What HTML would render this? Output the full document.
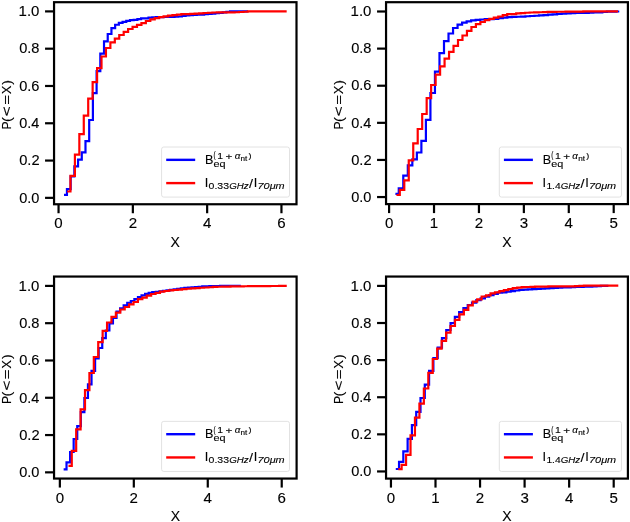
<!DOCTYPE html><html><head><meta charset="utf-8"><style>html,body{margin:0;padding:0;background:#fff;}svg{display:block;will-change:transform;}text{font-family:"Liberation Sans",sans-serif;fill:#000;stroke:#000;stroke-width:0.12px;}</style></head><body>
<svg width="630" height="522" viewBox="0 0 630 522">
<rect width="630" height="522" fill="#fff"/>
<clipPath id="cTL"><rect x="54.05" y="2.20" width="242.45" height="202.05"/></clipPath>
<g clip-path="url(#cTL)"><path d="M65.09 194.90H66.94V189.10H70.65V176.40H74.36V166.30H78.06V159.60H81.77V152.40H85.48V141.10H89.19V120.00H92.90V93.20H96.60V71.10H100.31V53.70H104.02V41.40H107.73V34.00H111.44V28.20H115.14V24.75H118.85V22.90H122.56V21.90H126.27V20.90H129.98V20.15H133.68V19.80H137.39V19.10H141.10V18.40H148.52V17.63H152.22V17.41H155.93V17.22H159.64V17.08H163.35V17.01H167.06V16.95H170.76V16.87H174.47V16.68H178.18V16.50H181.89V15.97H185.60V15.47H189.30V15.24H193.01V15.01H196.72V14.77H200.43V14.54H204.14V14.27H207.84V13.93H211.55V13.60H215.26V13.25H218.97V12.80H222.68V12.36H226.38V11.88H230.09V11.41H233.80V11.40H246.78" fill="none" stroke="#0000ff" stroke-width="2.20" stroke-linecap="square" stroke-linejoin="miter"/><path d="M68.25 191.50H70.47V175.90H74.91V154.60H79.34V134.20H83.78V115.60H88.21V98.70H92.64V82.10H97.08V68.10H101.51V56.50H105.95V48.00H110.38V42.40H114.82V38.70H119.25V35.00H123.69V31.90H128.12V29.00H132.56V26.90H136.99V24.90H141.43V23.10H145.86V21.00H150.30V19.40H154.73V18.10H159.17V17.10H163.60V16.30H168.04V15.60H172.47V15.10H176.91V14.70H181.34V14.10H190.22V13.88H194.65V13.60H199.08V13.31H203.52V13.02H207.95V12.74H212.39V12.48H216.82V12.38H221.26V12.36H225.69V12.34H230.13V12.32H234.56V12.26H239.00V12.02H243.43V11.75H247.87V11.45H252.30V11.45H256.74V11.44H261.17V11.44H265.61V11.43H270.04V11.43H274.48V11.42H278.91V11.42H283.35V11.41H285.57" fill="none" stroke="#ff0000" stroke-width="2.20" stroke-linecap="square" stroke-linejoin="miter"/></g>
<line x1="45.05" y1="197.85" x2="54.05" y2="197.85" stroke="#000" stroke-width="2.2"/>
<text x="19.18" y="202.60" font-size="14.00" textLength="20.24" lengthAdjust="spacingAndGlyphs">0.0</text>
<line x1="45.05" y1="160.56" x2="54.05" y2="160.56" stroke="#000" stroke-width="2.2"/>
<text x="19.18" y="165.31" font-size="14.00" textLength="20.41" lengthAdjust="spacingAndGlyphs">0.2</text>
<line x1="45.05" y1="123.27" x2="54.05" y2="123.27" stroke="#000" stroke-width="2.2"/>
<text x="19.19" y="128.02" font-size="14.00" textLength="20.09" lengthAdjust="spacingAndGlyphs">0.4</text>
<line x1="45.05" y1="85.98" x2="54.05" y2="85.98" stroke="#000" stroke-width="2.2"/>
<text x="19.18" y="90.73" font-size="14.00" textLength="20.31" lengthAdjust="spacingAndGlyphs">0.6</text>
<line x1="45.05" y1="48.69" x2="54.05" y2="48.69" stroke="#000" stroke-width="2.2"/>
<text x="19.18" y="53.44" font-size="14.00" textLength="20.31" lengthAdjust="spacingAndGlyphs">0.8</text>
<line x1="45.05" y1="11.40" x2="54.05" y2="11.40" stroke="#000" stroke-width="2.2"/>
<text x="18.61" y="16.15" font-size="14.00" textLength="20.83" lengthAdjust="spacingAndGlyphs">1.0</text>
<line x1="58.55" y1="204.25" x2="58.55" y2="213.25" stroke="#000" stroke-width="2.2"/>
<text x="58.55" y="228.25" font-size="14" text-anchor="middle" textLength="8.40" lengthAdjust="spacingAndGlyphs">0</text>
<line x1="132.85" y1="204.25" x2="132.85" y2="213.25" stroke="#000" stroke-width="2.2"/>
<text x="132.85" y="228.25" font-size="14" text-anchor="middle" textLength="8.40" lengthAdjust="spacingAndGlyphs">2</text>
<line x1="207.15" y1="204.25" x2="207.15" y2="213.25" stroke="#000" stroke-width="2.2"/>
<text x="207.15" y="228.25" font-size="14" text-anchor="middle" textLength="8.40" lengthAdjust="spacingAndGlyphs">4</text>
<line x1="281.45" y1="204.25" x2="281.45" y2="213.25" stroke="#000" stroke-width="2.2"/>
<text x="281.45" y="228.25" font-size="14" text-anchor="middle" textLength="8.40" lengthAdjust="spacingAndGlyphs">6</text>
<rect x="54.05" y="2.20" width="242.45" height="202.05" fill="none" stroke="#000" stroke-width="2.2"/>
<text x="175.28" y="246.95" font-size="14" text-anchor="middle">X</text>
<text transform="translate(10.95 0) rotate(-90)" x="-129.59" y="0" font-size="13.4" textLength="8.02" lengthAdjust="spacingAndGlyphs">P</text>
<text transform="translate(10.95 0) rotate(-90)" x="-122.09" y="0" font-size="13.4" textLength="4.77" lengthAdjust="spacingAndGlyphs">(</text>
<text transform="translate(10.95 0) rotate(-90)" x="-116.15" y="0" font-size="13.4" textLength="10.10" lengthAdjust="spacingAndGlyphs">&lt;</text>
<text transform="translate(10.95 0) rotate(-90)" x="-104.81" y="0" font-size="13.4" textLength="9.74" lengthAdjust="spacingAndGlyphs">=</text>
<text transform="translate(10.95 0) rotate(-90)" x="-94.29" y="0" font-size="13.4" textLength="8.66" lengthAdjust="spacingAndGlyphs">X</text>
<text transform="translate(10.95 0) rotate(-90)" x="-84.78" y="0" font-size="13.4" textLength="4.77" lengthAdjust="spacingAndGlyphs">)</text>
<rect x="161.60" y="147.00" width="127.90" height="50.10" rx="2.2" ry="2.2" fill="#fff" fill-opacity="0.8" stroke="#e2e2e2" stroke-width="1"/>
<line x1="166.20" y1="159.85" x2="195.20" y2="159.85" stroke="#0000ff" stroke-width="2.4"/>
<line x1="166.20" y1="183.10" x2="195.20" y2="183.10" stroke="#ff0000" stroke-width="2.4"/>
<text x="205.07" y="163.80" font-size="13.50" textLength="8.40" lengthAdjust="spacingAndGlyphs">B</text>
<text x="213.54" y="167.10" font-size="9.50" textLength="12.05" lengthAdjust="spacingAndGlyphs">eq</text>
<text x="213.60" y="158.35" font-size="8.20" textLength="2.14" lengthAdjust="spacingAndGlyphs">(</text>
<text x="217.20" y="158.80" font-size="9.00" textLength="5.80" lengthAdjust="spacingAndGlyphs">1</text>
<text x="225.53" y="159.60" font-size="9.30" textLength="6.85" lengthAdjust="spacingAndGlyphs">+</text>
<text x="234.66" y="159.10" font-size="9.30" font-style="italic" textLength="5.61" lengthAdjust="spacingAndGlyphs">α</text>
<text x="240.46" y="160.60" font-size="6.65" textLength="6.80" lengthAdjust="spacingAndGlyphs">nt</text>
<text x="248.55" y="158.10" font-size="8.00" textLength="3.01" lengthAdjust="spacingAndGlyphs">)</text>
<text x="204.81" y="187.00" font-size="13.50" textLength="3.57" lengthAdjust="spacingAndGlyphs">I</text>
<text x="208.59" y="189.00" font-size="9.60" textLength="20.47" lengthAdjust="spacingAndGlyphs">0.33</text>
<text x="229.22" y="189.00" font-size="9.60" font-style="italic" textLength="19.51" lengthAdjust="spacingAndGlyphs">GHz</text>
<text x="249.10" y="187.60" font-size="13.50" textLength="4.00" lengthAdjust="spacingAndGlyphs">/</text>
<text x="253.71" y="187.00" font-size="13.50" textLength="3.57" lengthAdjust="spacingAndGlyphs">I</text>
<text x="257.57" y="189.00" font-size="9.60" font-style="italic" textLength="27.13" lengthAdjust="spacingAndGlyphs">70μm</text>
<clipPath id="cTR"><rect x="386.05" y="2.20" width="241.85" height="201.90"/></clipPath>
<g clip-path="url(#cTR)"><path d="M396.50 193.90H398.76V188.40H403.28V175.70H407.81V165.30H412.33V159.40H416.86V152.50H421.38V140.80H425.90V119.80H430.43V93.00H434.95V71.70H439.48V53.10H444.00V41.20H448.52V33.50H453.05V28.00H457.57V24.60H462.10V22.70H466.62V21.30H471.14V20.30H475.67V19.80H480.19V19.50H484.72V19.20H489.24V19.10H493.76V19.00H498.29V18.20H502.81V17.60H507.34V17.20H511.86V16.95H516.38V16.75H520.91V16.53H525.43V16.26H529.96V15.99H534.48V15.76H539.00V15.40H543.53V15.04H548.05V14.71H552.58V14.38H557.10V14.00H561.62V13.60H566.15V13.31H570.67V13.06H575.20V12.95H579.72V12.89H584.24V12.82H588.77V12.68H593.29V12.51H597.82V12.34H602.34V11.98H606.86V11.60H611.39V11.56H615.91V11.52H618.17" fill="none" stroke="#0000ff" stroke-width="2.20" stroke-linecap="square" stroke-linejoin="miter"/><path d="M397.57 195.00H399.81V189.80H404.29V180.30H408.76V160.30H413.24V143.40H417.71V129.00H422.19V114.00H426.67V98.10H431.14V85.00H435.62V74.70H440.09V66.30H444.57V58.60H449.05V51.90H453.52V45.80H458.00V40.00H462.47V35.50H466.95V30.90H471.43V27.00H475.90V24.20H480.38V22.00H484.85V20.20H489.33V18.80H493.81V17.60H498.28V16.50H502.76V15.10H507.23V14.21H511.71V14.10H516.19V13.37H520.66V13.05H525.14V12.76H529.61V12.51H534.09V12.37H538.57V12.23H543.04V12.09H547.52V11.93H551.99V11.78H556.47V11.74H560.95V11.73H565.42V11.72H569.90V11.72H574.37V11.71H578.85V11.65H583.33V11.47H587.80V11.45H616.90" fill="none" stroke="#ff0000" stroke-width="2.20" stroke-linecap="square" stroke-linejoin="miter"/></g>
<line x1="377.05" y1="197.05" x2="386.05" y2="197.05" stroke="#000" stroke-width="2.2"/>
<text x="351.18" y="201.80" font-size="14.00" textLength="20.24" lengthAdjust="spacingAndGlyphs">0.0</text>
<line x1="377.05" y1="159.94" x2="386.05" y2="159.94" stroke="#000" stroke-width="2.2"/>
<text x="351.18" y="164.69" font-size="14.00" textLength="20.41" lengthAdjust="spacingAndGlyphs">0.2</text>
<line x1="377.05" y1="122.83" x2="386.05" y2="122.83" stroke="#000" stroke-width="2.2"/>
<text x="351.19" y="127.58" font-size="14.00" textLength="20.09" lengthAdjust="spacingAndGlyphs">0.4</text>
<line x1="377.05" y1="85.72" x2="386.05" y2="85.72" stroke="#000" stroke-width="2.2"/>
<text x="351.18" y="90.47" font-size="14.00" textLength="20.31" lengthAdjust="spacingAndGlyphs">0.6</text>
<line x1="377.05" y1="48.61" x2="386.05" y2="48.61" stroke="#000" stroke-width="2.2"/>
<text x="351.18" y="53.36" font-size="14.00" textLength="20.31" lengthAdjust="spacingAndGlyphs">0.8</text>
<line x1="377.05" y1="11.50" x2="386.05" y2="11.50" stroke="#000" stroke-width="2.2"/>
<text x="350.61" y="16.25" font-size="14.00" textLength="20.83" lengthAdjust="spacingAndGlyphs">1.0</text>
<line x1="389.10" y1="204.10" x2="389.10" y2="213.10" stroke="#000" stroke-width="2.2"/>
<text x="389.10" y="228.10" font-size="14" text-anchor="middle" textLength="8.40" lengthAdjust="spacingAndGlyphs">0</text>
<line x1="434.02" y1="204.10" x2="434.02" y2="213.10" stroke="#000" stroke-width="2.2"/>
<text x="434.02" y="228.10" font-size="14" text-anchor="middle" textLength="8.40" lengthAdjust="spacingAndGlyphs">1</text>
<line x1="478.94" y1="204.10" x2="478.94" y2="213.10" stroke="#000" stroke-width="2.2"/>
<text x="478.94" y="228.10" font-size="14" text-anchor="middle" textLength="8.40" lengthAdjust="spacingAndGlyphs">2</text>
<line x1="523.86" y1="204.10" x2="523.86" y2="213.10" stroke="#000" stroke-width="2.2"/>
<text x="523.86" y="228.10" font-size="14" text-anchor="middle" textLength="8.40" lengthAdjust="spacingAndGlyphs">3</text>
<line x1="568.78" y1="204.10" x2="568.78" y2="213.10" stroke="#000" stroke-width="2.2"/>
<text x="568.78" y="228.10" font-size="14" text-anchor="middle" textLength="8.40" lengthAdjust="spacingAndGlyphs">4</text>
<line x1="613.70" y1="204.10" x2="613.70" y2="213.10" stroke="#000" stroke-width="2.2"/>
<text x="613.70" y="228.10" font-size="14" text-anchor="middle" textLength="8.40" lengthAdjust="spacingAndGlyphs">5</text>
<rect x="386.05" y="2.20" width="241.85" height="201.90" fill="none" stroke="#000" stroke-width="2.2"/>
<text x="506.98" y="246.80" font-size="14" text-anchor="middle">X</text>
<text transform="translate(342.95 0) rotate(-90)" x="-129.59" y="0" font-size="13.4" textLength="8.02" lengthAdjust="spacingAndGlyphs">P</text>
<text transform="translate(342.95 0) rotate(-90)" x="-122.09" y="0" font-size="13.4" textLength="4.77" lengthAdjust="spacingAndGlyphs">(</text>
<text transform="translate(342.95 0) rotate(-90)" x="-116.15" y="0" font-size="13.4" textLength="10.10" lengthAdjust="spacingAndGlyphs">&lt;</text>
<text transform="translate(342.95 0) rotate(-90)" x="-104.81" y="0" font-size="13.4" textLength="9.74" lengthAdjust="spacingAndGlyphs">=</text>
<text transform="translate(342.95 0) rotate(-90)" x="-94.29" y="0" font-size="13.4" textLength="8.66" lengthAdjust="spacingAndGlyphs">X</text>
<text transform="translate(342.95 0) rotate(-90)" x="-84.78" y="0" font-size="13.4" textLength="4.77" lengthAdjust="spacingAndGlyphs">)</text>
<rect x="499.30" y="147.00" width="122.20" height="50.10" rx="2.2" ry="2.2" fill="#fff" fill-opacity="0.8" stroke="#e2e2e2" stroke-width="1"/>
<line x1="503.90" y1="159.85" x2="532.90" y2="159.85" stroke="#0000ff" stroke-width="2.4"/>
<line x1="503.90" y1="183.10" x2="532.90" y2="183.10" stroke="#ff0000" stroke-width="2.4"/>
<text x="542.77" y="163.80" font-size="13.50" textLength="8.40" lengthAdjust="spacingAndGlyphs">B</text>
<text x="551.24" y="167.10" font-size="9.50" textLength="12.05" lengthAdjust="spacingAndGlyphs">eq</text>
<text x="551.30" y="158.35" font-size="8.20" textLength="2.14" lengthAdjust="spacingAndGlyphs">(</text>
<text x="554.90" y="158.80" font-size="9.00" textLength="5.80" lengthAdjust="spacingAndGlyphs">1</text>
<text x="563.23" y="159.60" font-size="9.30" textLength="6.85" lengthAdjust="spacingAndGlyphs">+</text>
<text x="572.36" y="159.10" font-size="9.30" font-style="italic" textLength="5.61" lengthAdjust="spacingAndGlyphs">α</text>
<text x="578.16" y="160.60" font-size="6.65" textLength="6.80" lengthAdjust="spacingAndGlyphs">nt</text>
<text x="586.25" y="158.10" font-size="8.00" textLength="3.01" lengthAdjust="spacingAndGlyphs">)</text>
<text x="542.51" y="187.00" font-size="13.50" textLength="3.57" lengthAdjust="spacingAndGlyphs">I</text>
<text x="546.42" y="189.00" font-size="9.60" textLength="14.28" lengthAdjust="spacingAndGlyphs">1.4</text>
<text x="560.72" y="189.00" font-size="9.60" font-style="italic" textLength="19.51" lengthAdjust="spacingAndGlyphs">GHz</text>
<text x="580.60" y="187.60" font-size="13.50" textLength="4.00" lengthAdjust="spacingAndGlyphs">/</text>
<text x="585.21" y="187.00" font-size="13.50" textLength="3.57" lengthAdjust="spacingAndGlyphs">I</text>
<text x="589.07" y="189.00" font-size="9.60" font-style="italic" textLength="27.13" lengthAdjust="spacingAndGlyphs">70μm</text>
<clipPath id="cBL"><rect x="54.05" y="276.55" width="242.55" height="202.00"/></clipPath>
<g clip-path="url(#cBL)"><path d="M64.73 469.40H66.52V462.40H70.09V452.00H73.66V439.00H77.24V426.20H80.81V412.20H84.38V398.00H87.95V384.30H91.52V370.90H95.10V358.40H98.67V348.00H102.24V338.10H105.81V330.50H109.38V323.50H112.96V317.90H116.53V311.50H120.10V308.30H123.67V305.30H127.24V302.90H130.82V301.00H134.39V299.10H137.96V297.10H141.53V295.30H145.10V293.90H148.68V292.90H152.25V292.20H155.82V291.84H159.39V291.32H162.96V290.80H166.54V290.31H170.11V289.81H173.68V289.30H177.25V288.78H180.82V288.26H184.40V287.91H187.97V287.59H191.54V287.26H195.11V286.99H198.68V286.73H202.26V286.47H205.83V286.31H209.40V286.19H212.97V286.07H216.54V285.99H220.12V285.96H223.69V285.93H227.26V285.91H230.83V285.90H239.76" fill="none" stroke="#0000ff" stroke-width="2.20" stroke-linecap="square" stroke-linejoin="miter"/><path d="M69.56 465.80H71.77V450.80H76.18V429.40H80.59V409.30H85.00V390.10H89.41V373.00H93.82V357.00H98.23V342.20H102.64V330.90H107.05V322.50H111.46V316.90H115.87V312.70H120.28V309.50H124.69V307.00H129.10V304.40H133.51V302.00H137.92V299.20H142.33V297.60H146.74V295.70H151.15V294.00H155.56V292.90H159.97V291.70H164.38V291.00H168.79V290.35H173.20V290.02H177.61V289.60H182.02V289.14H186.43V288.73H190.84V288.39H195.25V288.04H199.66V287.77H204.07V287.50H208.48V287.24H212.89V286.97H217.30V286.77H221.71V286.67H226.12V286.57H230.53V286.47H234.94V286.36H239.35V286.29H243.76V286.25H248.17V286.21H252.58V286.17H256.99V286.13H261.40V286.09H265.81V286.05H270.22V286.02H274.63V285.98H279.04V285.94H283.45V285.90H285.65" fill="none" stroke="#ff0000" stroke-width="2.20" stroke-linecap="square" stroke-linejoin="miter"/></g>
<line x1="45.05" y1="472.35" x2="54.05" y2="472.35" stroke="#000" stroke-width="2.2"/>
<text x="19.18" y="477.10" font-size="14.00" textLength="20.24" lengthAdjust="spacingAndGlyphs">0.0</text>
<line x1="45.05" y1="435.06" x2="54.05" y2="435.06" stroke="#000" stroke-width="2.2"/>
<text x="19.18" y="439.81" font-size="14.00" textLength="20.41" lengthAdjust="spacingAndGlyphs">0.2</text>
<line x1="45.05" y1="397.77" x2="54.05" y2="397.77" stroke="#000" stroke-width="2.2"/>
<text x="19.19" y="402.52" font-size="14.00" textLength="20.09" lengthAdjust="spacingAndGlyphs">0.4</text>
<line x1="45.05" y1="360.48" x2="54.05" y2="360.48" stroke="#000" stroke-width="2.2"/>
<text x="19.18" y="365.23" font-size="14.00" textLength="20.31" lengthAdjust="spacingAndGlyphs">0.6</text>
<line x1="45.05" y1="323.19" x2="54.05" y2="323.19" stroke="#000" stroke-width="2.2"/>
<text x="19.18" y="327.94" font-size="14.00" textLength="20.31" lengthAdjust="spacingAndGlyphs">0.8</text>
<line x1="45.05" y1="285.90" x2="54.05" y2="285.90" stroke="#000" stroke-width="2.2"/>
<text x="18.61" y="290.65" font-size="14.00" textLength="20.83" lengthAdjust="spacingAndGlyphs">1.0</text>
<line x1="59.85" y1="478.55" x2="59.85" y2="487.55" stroke="#000" stroke-width="2.2"/>
<text x="59.85" y="502.55" font-size="14" text-anchor="middle" textLength="8.40" lengthAdjust="spacingAndGlyphs">0</text>
<line x1="133.81" y1="478.55" x2="133.81" y2="487.55" stroke="#000" stroke-width="2.2"/>
<text x="133.81" y="502.55" font-size="14" text-anchor="middle" textLength="8.40" lengthAdjust="spacingAndGlyphs">2</text>
<line x1="207.77" y1="478.55" x2="207.77" y2="487.55" stroke="#000" stroke-width="2.2"/>
<text x="207.77" y="502.55" font-size="14" text-anchor="middle" textLength="8.40" lengthAdjust="spacingAndGlyphs">4</text>
<line x1="281.73" y1="478.55" x2="281.73" y2="487.55" stroke="#000" stroke-width="2.2"/>
<text x="281.73" y="502.55" font-size="14" text-anchor="middle" textLength="8.40" lengthAdjust="spacingAndGlyphs">6</text>
<rect x="54.05" y="276.55" width="242.55" height="202.00" fill="none" stroke="#000" stroke-width="2.2"/>
<text x="175.33" y="521.25" font-size="14" text-anchor="middle">X</text>
<text transform="translate(10.95 0) rotate(-90)" x="-403.94" y="0" font-size="13.4" textLength="8.02" lengthAdjust="spacingAndGlyphs">P</text>
<text transform="translate(10.95 0) rotate(-90)" x="-396.44" y="0" font-size="13.4" textLength="4.77" lengthAdjust="spacingAndGlyphs">(</text>
<text transform="translate(10.95 0) rotate(-90)" x="-390.50" y="0" font-size="13.4" textLength="10.10" lengthAdjust="spacingAndGlyphs">&lt;</text>
<text transform="translate(10.95 0) rotate(-90)" x="-379.16" y="0" font-size="13.4" textLength="9.74" lengthAdjust="spacingAndGlyphs">=</text>
<text transform="translate(10.95 0) rotate(-90)" x="-368.64" y="0" font-size="13.4" textLength="8.66" lengthAdjust="spacingAndGlyphs">X</text>
<text transform="translate(10.95 0) rotate(-90)" x="-359.13" y="0" font-size="13.4" textLength="4.77" lengthAdjust="spacingAndGlyphs">)</text>
<rect x="161.60" y="421.35" width="127.90" height="50.10" rx="2.2" ry="2.2" fill="#fff" fill-opacity="0.8" stroke="#e2e2e2" stroke-width="1"/>
<line x1="166.20" y1="434.20" x2="195.20" y2="434.20" stroke="#0000ff" stroke-width="2.4"/>
<line x1="166.20" y1="457.45" x2="195.20" y2="457.45" stroke="#ff0000" stroke-width="2.4"/>
<text x="205.07" y="438.15" font-size="13.50" textLength="8.40" lengthAdjust="spacingAndGlyphs">B</text>
<text x="213.54" y="441.45" font-size="9.50" textLength="12.05" lengthAdjust="spacingAndGlyphs">eq</text>
<text x="213.60" y="432.70" font-size="8.20" textLength="2.14" lengthAdjust="spacingAndGlyphs">(</text>
<text x="217.20" y="433.15" font-size="9.00" textLength="5.80" lengthAdjust="spacingAndGlyphs">1</text>
<text x="225.53" y="433.95" font-size="9.30" textLength="6.85" lengthAdjust="spacingAndGlyphs">+</text>
<text x="234.66" y="433.45" font-size="9.30" font-style="italic" textLength="5.61" lengthAdjust="spacingAndGlyphs">α</text>
<text x="240.46" y="434.95" font-size="6.65" textLength="6.80" lengthAdjust="spacingAndGlyphs">nt</text>
<text x="248.55" y="432.45" font-size="8.00" textLength="3.01" lengthAdjust="spacingAndGlyphs">)</text>
<text x="204.81" y="461.35" font-size="13.50" textLength="3.57" lengthAdjust="spacingAndGlyphs">I</text>
<text x="208.59" y="463.35" font-size="9.60" textLength="20.47" lengthAdjust="spacingAndGlyphs">0.33</text>
<text x="229.22" y="463.35" font-size="9.60" font-style="italic" textLength="19.51" lengthAdjust="spacingAndGlyphs">GHz</text>
<text x="249.10" y="461.95" font-size="13.50" textLength="4.00" lengthAdjust="spacingAndGlyphs">/</text>
<text x="253.71" y="461.35" font-size="13.50" textLength="3.57" lengthAdjust="spacingAndGlyphs">I</text>
<text x="257.57" y="463.35" font-size="9.60" font-style="italic" textLength="27.13" lengthAdjust="spacingAndGlyphs">70μm</text>
<clipPath id="cBR"><rect x="386.05" y="276.55" width="241.85" height="202.05"/></clipPath>
<g clip-path="url(#cBR)"><path d="M396.88 469.00H399.03V461.80H403.32V451.30H407.62V438.80H411.91V425.10H416.21V411.80H420.50V398.00H424.79V384.60H429.09V370.90H433.38V358.00H437.68V347.70H441.97V338.20H446.26V330.00H450.56V323.10H454.85V316.90H459.15V312.20H463.44V308.20H467.73V305.00H472.03V302.60H476.32V300.20H480.62V298.30H484.91V296.60H489.20V295.10H493.50V293.80H497.79V292.70H502.09V292.39H506.38V291.73H510.67V291.10H514.97V290.48H519.26V290.00H523.56V289.72H527.85V289.44H532.14V289.21H536.44V288.96H540.73V288.71H545.03V288.45H549.32V288.13H553.61V287.80H557.91V287.59H562.20V287.44H566.50V287.28H570.79V287.13H575.08V286.98H579.38V286.83H583.67V286.70H587.97V286.56H592.26V286.38H596.55V286.16H600.85V285.80H605.14V285.80H607.29" fill="none" stroke="#0000ff" stroke-width="2.20" stroke-linecap="square" stroke-linejoin="miter"/><path d="M399.41 469.20H401.63V464.80H406.07V454.80H410.52V435.30H414.96V417.70H419.41V403.60H423.86V388.50H428.30V372.90H432.75V359.00H437.19V348.70H441.63V340.80H446.08V332.60H450.52V326.00H454.97V319.80H459.41V314.35H463.86V309.80H468.30V305.40H472.75V301.60H477.19V299.40H481.64V296.50H486.08V295.30H490.53V293.40H494.97V292.40H499.42V291.10H503.87V290.20H508.31V288.99H512.75V288.19H517.20V287.67H521.64V287.21H526.09V287.00H530.53V286.86H534.98V286.72H539.42V286.62H543.87V286.53H548.31V286.44H552.76V286.34H557.20V286.30H574.99V286.15H579.43V285.86H583.88V285.70H617.21" fill="none" stroke="#ff0000" stroke-width="2.20" stroke-linecap="square" stroke-linejoin="miter"/></g>
<line x1="377.05" y1="471.45" x2="386.05" y2="471.45" stroke="#000" stroke-width="2.2"/>
<text x="351.18" y="476.20" font-size="14.00" textLength="20.24" lengthAdjust="spacingAndGlyphs">0.0</text>
<line x1="377.05" y1="434.34" x2="386.05" y2="434.34" stroke="#000" stroke-width="2.2"/>
<text x="351.18" y="439.09" font-size="14.00" textLength="20.41" lengthAdjust="spacingAndGlyphs">0.2</text>
<line x1="377.05" y1="397.23" x2="386.05" y2="397.23" stroke="#000" stroke-width="2.2"/>
<text x="351.19" y="401.98" font-size="14.00" textLength="20.09" lengthAdjust="spacingAndGlyphs">0.4</text>
<line x1="377.05" y1="360.12" x2="386.05" y2="360.12" stroke="#000" stroke-width="2.2"/>
<text x="351.18" y="364.87" font-size="14.00" textLength="20.31" lengthAdjust="spacingAndGlyphs">0.6</text>
<line x1="377.05" y1="323.01" x2="386.05" y2="323.01" stroke="#000" stroke-width="2.2"/>
<text x="351.18" y="327.76" font-size="14.00" textLength="20.31" lengthAdjust="spacingAndGlyphs">0.8</text>
<line x1="377.05" y1="285.90" x2="386.05" y2="285.90" stroke="#000" stroke-width="2.2"/>
<text x="350.61" y="290.65" font-size="14.00" textLength="20.83" lengthAdjust="spacingAndGlyphs">1.0</text>
<line x1="390.95" y1="478.60" x2="390.95" y2="487.60" stroke="#000" stroke-width="2.2"/>
<text x="390.95" y="502.60" font-size="14" text-anchor="middle" textLength="8.40" lengthAdjust="spacingAndGlyphs">0</text>
<line x1="435.50" y1="478.60" x2="435.50" y2="487.60" stroke="#000" stroke-width="2.2"/>
<text x="435.50" y="502.60" font-size="14" text-anchor="middle" textLength="8.40" lengthAdjust="spacingAndGlyphs">1</text>
<line x1="480.05" y1="478.60" x2="480.05" y2="487.60" stroke="#000" stroke-width="2.2"/>
<text x="480.05" y="502.60" font-size="14" text-anchor="middle" textLength="8.40" lengthAdjust="spacingAndGlyphs">2</text>
<line x1="524.60" y1="478.60" x2="524.60" y2="487.60" stroke="#000" stroke-width="2.2"/>
<text x="524.60" y="502.60" font-size="14" text-anchor="middle" textLength="8.40" lengthAdjust="spacingAndGlyphs">3</text>
<line x1="569.15" y1="478.60" x2="569.15" y2="487.60" stroke="#000" stroke-width="2.2"/>
<text x="569.15" y="502.60" font-size="14" text-anchor="middle" textLength="8.40" lengthAdjust="spacingAndGlyphs">4</text>
<line x1="613.70" y1="478.60" x2="613.70" y2="487.60" stroke="#000" stroke-width="2.2"/>
<text x="613.70" y="502.60" font-size="14" text-anchor="middle" textLength="8.40" lengthAdjust="spacingAndGlyphs">5</text>
<rect x="386.05" y="276.55" width="241.85" height="202.05" fill="none" stroke="#000" stroke-width="2.2"/>
<text x="506.98" y="521.30" font-size="14" text-anchor="middle">X</text>
<text transform="translate(342.95 0) rotate(-90)" x="-403.94" y="0" font-size="13.4" textLength="8.02" lengthAdjust="spacingAndGlyphs">P</text>
<text transform="translate(342.95 0) rotate(-90)" x="-396.44" y="0" font-size="13.4" textLength="4.77" lengthAdjust="spacingAndGlyphs">(</text>
<text transform="translate(342.95 0) rotate(-90)" x="-390.50" y="0" font-size="13.4" textLength="10.10" lengthAdjust="spacingAndGlyphs">&lt;</text>
<text transform="translate(342.95 0) rotate(-90)" x="-379.16" y="0" font-size="13.4" textLength="9.74" lengthAdjust="spacingAndGlyphs">=</text>
<text transform="translate(342.95 0) rotate(-90)" x="-368.64" y="0" font-size="13.4" textLength="8.66" lengthAdjust="spacingAndGlyphs">X</text>
<text transform="translate(342.95 0) rotate(-90)" x="-359.13" y="0" font-size="13.4" textLength="4.77" lengthAdjust="spacingAndGlyphs">)</text>
<rect x="499.30" y="421.35" width="122.20" height="50.10" rx="2.2" ry="2.2" fill="#fff" fill-opacity="0.8" stroke="#e2e2e2" stroke-width="1"/>
<line x1="503.90" y1="434.20" x2="532.90" y2="434.20" stroke="#0000ff" stroke-width="2.4"/>
<line x1="503.90" y1="457.45" x2="532.90" y2="457.45" stroke="#ff0000" stroke-width="2.4"/>
<text x="542.77" y="438.15" font-size="13.50" textLength="8.40" lengthAdjust="spacingAndGlyphs">B</text>
<text x="551.24" y="441.45" font-size="9.50" textLength="12.05" lengthAdjust="spacingAndGlyphs">eq</text>
<text x="551.30" y="432.70" font-size="8.20" textLength="2.14" lengthAdjust="spacingAndGlyphs">(</text>
<text x="554.90" y="433.15" font-size="9.00" textLength="5.80" lengthAdjust="spacingAndGlyphs">1</text>
<text x="563.23" y="433.95" font-size="9.30" textLength="6.85" lengthAdjust="spacingAndGlyphs">+</text>
<text x="572.36" y="433.45" font-size="9.30" font-style="italic" textLength="5.61" lengthAdjust="spacingAndGlyphs">α</text>
<text x="578.16" y="434.95" font-size="6.65" textLength="6.80" lengthAdjust="spacingAndGlyphs">nt</text>
<text x="586.25" y="432.45" font-size="8.00" textLength="3.01" lengthAdjust="spacingAndGlyphs">)</text>
<text x="542.51" y="461.35" font-size="13.50" textLength="3.57" lengthAdjust="spacingAndGlyphs">I</text>
<text x="546.42" y="463.35" font-size="9.60" textLength="14.28" lengthAdjust="spacingAndGlyphs">1.4</text>
<text x="560.72" y="463.35" font-size="9.60" font-style="italic" textLength="19.51" lengthAdjust="spacingAndGlyphs">GHz</text>
<text x="580.60" y="461.95" font-size="13.50" textLength="4.00" lengthAdjust="spacingAndGlyphs">/</text>
<text x="585.21" y="461.35" font-size="13.50" textLength="3.57" lengthAdjust="spacingAndGlyphs">I</text>
<text x="589.07" y="463.35" font-size="9.60" font-style="italic" textLength="27.13" lengthAdjust="spacingAndGlyphs">70μm</text>
</svg></body></html>
